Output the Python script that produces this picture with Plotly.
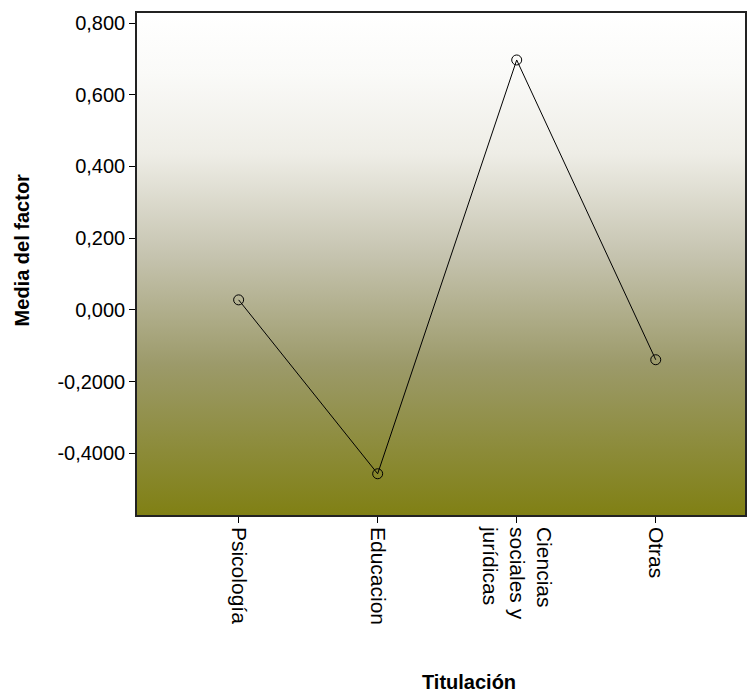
import plotly.graph_objects as go

# Mean factor score by degree programme
categories = ["Psicología", "Educacion", "Ciencias<br>sociales y<br>jurídicas", "Otras"]
means = [0.028, -0.457, 0.697, -0.139]

tick_vals = [-0.4, -0.2, 0.0, 0.2, 0.4, 0.6, 0.8]
tick_text = ["-0,4000", "-0,2000", "0,000", "0,200", "0,400", "0,600", "0,800"]

y_lo, y_hi = -0.572, 0.828
x_lo, x_hi = -0.731, 3.642

fig = go.Figure()

# Vertical gradient backdrop filling the plotting area
fig.add_trace(go.Scatter(
    x=[x_lo, x_hi, x_hi, x_lo, x_lo],
    y=[y_lo, y_lo, y_hi, y_hi, y_lo],
    mode="none",
    fill="toself",
    fillgradient=dict(
        type="vertical",
        start=y_lo,
        stop=y_hi,
        colorscale=[
            [0.0, "rgb(128,128,20)"],
            [0.3, "rgb(156,154,106)"],
            [0.52, "rgb(198,196,176)"],
            [0.72, "rgb(238,237,230)"],
            [0.88, "rgb(250,250,248)"],
            [1.0, "rgb(255,255,255)"],
        ],
    ),
    hoverinfo="skip",
    showlegend=False,
))

fig.add_trace(go.Scatter(
    x=list(range(len(categories))),
    y=means,
    mode="lines+markers",
    line=dict(color="black", width=1),
    marker=dict(symbol="circle-open", size=10, color="black", line=dict(width=1)),
    showlegend=False,
))

fig.update_layout(
    width=747,
    height=696,
    margin=dict(l=137, r=0, t=13, b=181),
    paper_bgcolor="white",
    plot_bgcolor="white",
    font=dict(family="Liberation Sans, Arial, sans-serif", size=20, color="black"),
    annotations=[
        dict(text="<b>Titulación</b>", xref="paper", yref="paper",
             x=(470 - 137) / 610, y=-(682 - 515) / 502, xanchor="center", yanchor="middle",
             showarrow=False, font=dict(size=20)),
        dict(text="<b>Media del factor</b>", xref="paper", yref="paper",
             x=-(137 - 22) / 610, y=(515 - 250) / 502, xanchor="center", yanchor="middle",
             textangle=-90, showarrow=False, font=dict(size=20)),
    ],
)

fig.update_xaxes(
    range=[x_lo, x_hi],
    tickvals=list(range(len(categories))),
    ticktext=categories,
    tickangle=90,
    ticks="outside",
    ticklen=6,
    tickcolor="black",
    tickfont=dict(size=21),
    showgrid=False,
    zeroline=False,
    showline=True,
    linecolor="#222222",
    linewidth=1.5,
    mirror=True,
)

fig.update_yaxes(
    range=[y_lo, y_hi],
    tickvals=tick_vals,
    ticktext=tick_text,
    ticks="outside",
    ticklen=6,
    tickcolor="black",
    showgrid=False,
    zeroline=False,
    showline=True,
    linecolor="#222222",
    linewidth=1.5,
    mirror=True,
)

fig.write_html("out.html")
